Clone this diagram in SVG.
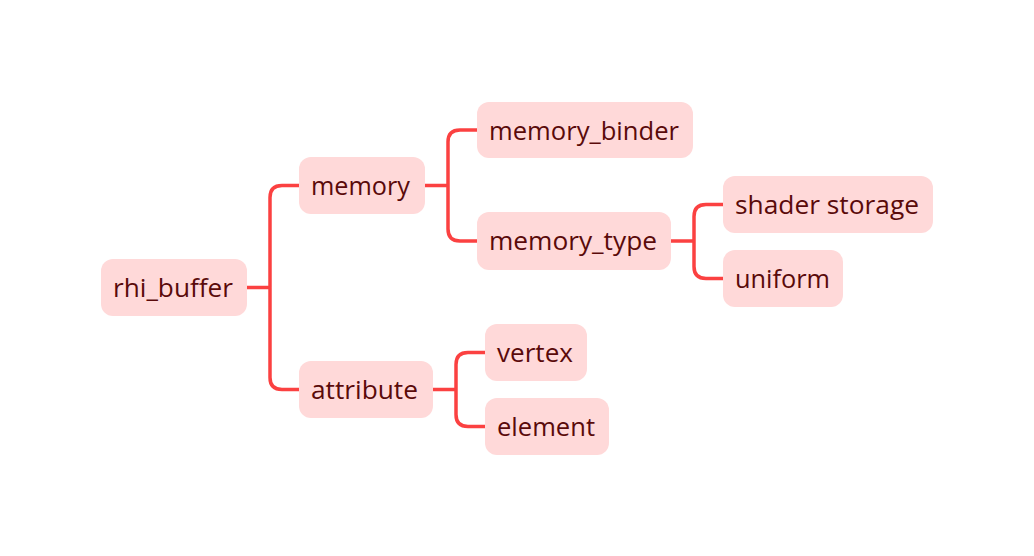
<svg xmlns="http://www.w3.org/2000/svg" width="1034" height="556" viewBox="0 0 1034 556">
<style>
.n rect{fill:#ffd9d9;}
.n text{font-family:"Open Sans",Lato,sans-serif;font-size:26px;font-weight:500;fill:#5a0a0a;}
.c path{fill:none;stroke:#fb4141;stroke-width:3.5;stroke-linecap:round;}
</style>
<rect width="1034" height="556" fill="#ffffff"/>
<g class="c" id="connectors">
<path d="M247 287.5 H270 M299 185.5 H282 Q270 185.5 270 197.5 V377.5 Q270 389.5 282 389.5 H299"/>
<path d="M425 185.5 H448 M477 130 H460 Q448 130 448 142 V229 Q448 241 460 241 H477"/>
<path d="M671 241 H694 M723 204.5 H706 Q694 204.5 694 216.5 V266.5 Q694 278.5 706 278.5 H723"/>
<path d="M433 389.5 H456 M485 352.5 H468 Q456 352.5 456 364.5 V414.5 Q456 426.5 468 426.5 H485"/>
</g>
<g class="n" id="rhi_buffer"><rect x="101" y="259" width="146" height="57" rx="12"/><text x="113" y="297" textLength="120" lengthAdjust="spacingAndGlyphs">rhi_buffer</text></g>
<g class="n" id="memory"><rect x="299" y="157" width="126" height="57" rx="12"/><text x="311" y="195" textLength="99" lengthAdjust="spacingAndGlyphs">memory</text></g>
<g class="n" id="attribute"><rect x="299" y="361" width="134" height="57" rx="12"/><text x="311" y="399" textLength="107" lengthAdjust="spacingAndGlyphs">attribute</text></g>
<g class="n" id="memory_binder"><rect x="477" y="102" width="216" height="56" rx="12"/><text x="489" y="140" textLength="190" lengthAdjust="spacingAndGlyphs">memory_binder</text></g>
<g class="n" id="memory_type"><rect x="477" y="212" width="194" height="58" rx="12"/><text x="489" y="250" textLength="168" lengthAdjust="spacingAndGlyphs">memory_type</text></g>
<g class="n" id="shader_storage"><rect x="723" y="176" width="210" height="57" rx="12"/><text x="735" y="214" textLength="184" lengthAdjust="spacingAndGlyphs">shader storage</text></g>
<g class="n" id="uniform"><rect x="723" y="250" width="120" height="57" rx="12"/><text x="735" y="288" textLength="95" lengthAdjust="spacingAndGlyphs">uniform</text></g>
<g class="n" id="vertex"><rect x="485" y="324" width="102" height="57" rx="12"/><text x="497" y="362" textLength="76" lengthAdjust="spacingAndGlyphs">vertex</text></g>
<g class="n" id="element"><rect x="485" y="398" width="124" height="57" rx="12"/><text x="497" y="436" textLength="98" lengthAdjust="spacingAndGlyphs">element</text></g>
</svg>
